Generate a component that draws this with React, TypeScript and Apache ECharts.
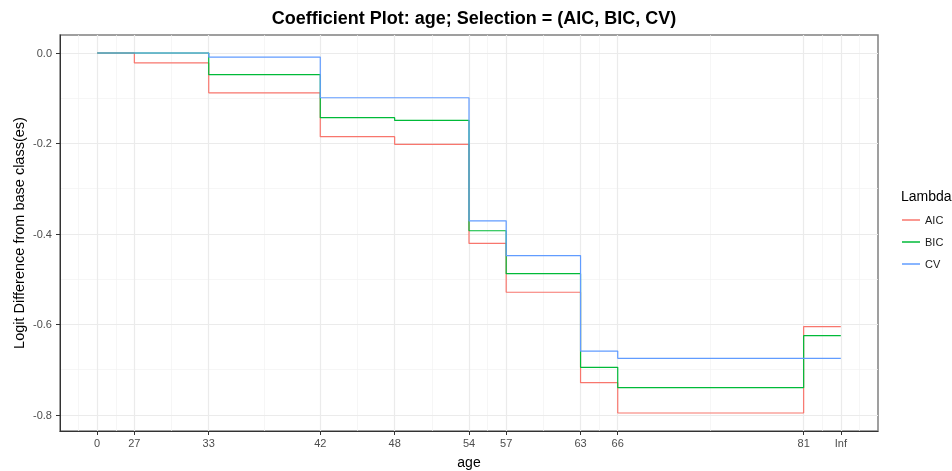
import React, { useEffect, useRef } from "react";
import * as echarts from "echarts";

// x positions of the breaks on the plotting scale and the labels shown for them
const tickPositions = [24, 27, 33, 42, 48, 54, 57, 63, 66, 81, 84];
const tickLabels = ["0", "27", "33", "42", "48", "54", "57", "63", "66", "81", "Inf"];

// step values for each segment between consecutive breaks
const aicValues = [0, -0.022, -0.088, -0.185, -0.202, -0.421, -0.529, -0.729, -0.796, -0.605];
const bicValues = [0, 0, -0.048, -0.143, -0.149, -0.393, -0.488, -0.695, -0.74, -0.625];
const cvValues = [0, 0, -0.009, -0.099, -0.099, -0.371, -0.448, -0.659, -0.675, -0.675];

const yTicks = [0, -0.2, -0.4, -0.6, -0.8];
const yMinorTicks = [-0.1, -0.3, -0.5, -0.7];
const xMinorTicks = [22.5, 25.5, 30, 37.5, 45, 51, 55.5, 60, 64.5, 73.5, 82.5, 85.5];

const seriesNames = ["AIC", "BIC", "CV"];
const colors = ["#F8766D", "#00BA38", "#619CFF"];

const FONT = "'Liberation Sans', Arial, sans-serif";

function stepData(values: number[]) {
  const d: number[][] = values.map((v, i) => [tickPositions[i], v]);
  d.push([tickPositions[tickPositions.length - 1], values[values.length - 1]]);
  return d;
}

export default function App() {
  const ref = useRef<HTMLDivElement>(null);
  useEffect(() => {
    if (!ref.current) return;
    const chart = echarts.init(ref.current, null, { renderer: "svg" });
    const major = { color: "#EBEBEB", width: 1.2, type: "solid" };
    const minor = { color: "#F2F2F2", width: 0.7, type: "solid" };
    const gridLines: any[] = [
      ...xMinorTicks.map((v) => ({ xAxis: v, lineStyle: minor })),
      ...yMinorTicks.map((v) => ({ yAxis: v, lineStyle: minor })),
      ...tickPositions.map((v) => ({ xAxis: v, lineStyle: major })),
      ...yTicks.map((v) => ({ yAxis: v, lineStyle: major })),
    ];
    const valueSets = [aicValues, bicValues, cvValues];
    chart.setOption({
      animation: false,
      color: colors,
      title: {
        text: "Coefficient Plot: age; Selection = (AIC, BIC, CV)",
        left: 469,
        top: 4,
        textAlign: "center",
        textStyle: { fontFamily: FONT, fontSize: 18, fontWeight: "bold", color: "#000" },
      },
      grid: {
        left: 60,
        right: 74,
        top: 35,
        bottom: 40,
        outerBoundsMode: "none",
        containLabel: false,
        show: true,
        borderColor: "#808080",
        borderWidth: 1.5,
        backgroundColor: "#fff",
      },
      legend: {
        orient: "vertical",
        left: 902,
        top: 213,
        padding: 0,
        itemWidth: 18,
        itemHeight: 1.5,
        itemGap: 8,
        icon: "rect",
        data: seriesNames,
        textStyle: { fontFamily: FONT, fontSize: 11, color: "#1A1A1A", lineHeight: 14 },
      },
      graphic: [
        {
          type: "text",
          left: 901,
          top: 189,
          style: { text: "Lambda", fontFamily: FONT, fontSize: 14, fill: "#000" },
        },
      ],
      xAxis: {
        type: "value",
        min: 21,
        max: 87,
        name: "age",
        nameLocation: "middle",
        nameGap: 24,
        nameTextStyle: { fontFamily: FONT, fontSize: 14, color: "#000" },
        splitLine: { show: false },
        axisLine: { show: true, onZero: false, lineStyle: { color: "#333", width: 1 } },
        axisTick: { show: true, length: 4, lineStyle: { color: "#333" }, customValues: tickPositions },
        axisLabel: {
          customValues: tickPositions,
          margin: 6,
          fontFamily: FONT,
          fontSize: 11,
          color: "#4D4D4D",
          formatter: (v: number) => {
            const i = tickPositions.indexOf(v);
            return i >= 0 ? tickLabels[i] : "";
          },
        },
      },
      yAxis: {
        type: "value",
        min: -0.8358,
        max: 0.0398,
        name: "Logit Difference from base class(es)",
        nameLocation: "middle",
        nameGap: 34,
        nameMoveOverlap: false,
        nameTextStyle: { fontFamily: FONT, fontSize: 14.5, color: "#000" },
        splitLine: { show: false },
        axisLine: { show: true, onZero: false, lineStyle: { color: "#333", width: 1 } },
        axisTick: { show: true, length: 4, lineStyle: { color: "#333" }, customValues: yTicks },
        axisLabel: {
          customValues: yTicks,
          margin: 8,
          fontFamily: FONT,
          fontSize: 11,
          color: "#4D4D4D",
          formatter: (v: number) => v.toFixed(1),
        },
      },
      series: [
        {
          type: "line",
          name: "__grid",
          data: [],
          z: 0,
          silent: true,
          markLine: {
            z: 0,
            silent: true,
            animation: false,
            symbol: ["none", "none"],
            label: { show: false },
            emphasis: { disabled: true },
            data: gridLines,
          },
        },
        ...seriesNames.map((name, i) => ({
          type: "line",
          name,
          step: "end",
          data: stepData(valueSets[i]),
          showSymbol: false,
          symbol: "none",
          z: 3 + i,
          lineStyle: { color: colors[i], width: 1.2 },
          itemStyle: { color: colors[i] },
        })),
      ],
    });
    return () => chart.dispose();
  }, []);
  return (
    <div style={{ position: "fixed", left: 0, top: 0 }}>
      <div ref={ref} style={{ width: 952, height: 471 }} />
    </div>
  );
}
